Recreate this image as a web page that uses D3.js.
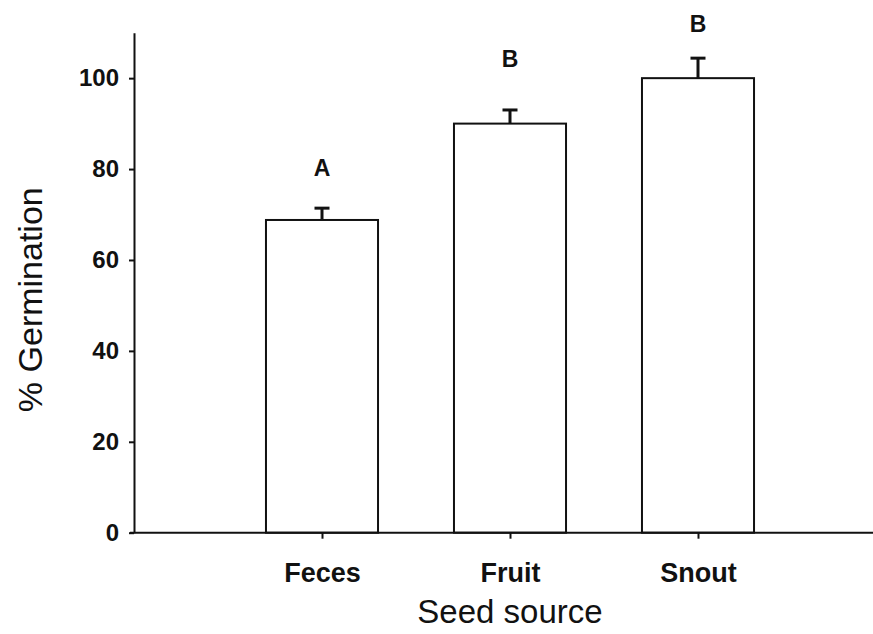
<!DOCTYPE html>
<html>
<head>
<meta charset="utf-8">
<script src="https://cdn.jsdelivr.net/npm/d3@7"></script>
<style>
  html, body { margin: 0; padding: 0; background: #fff; }
  svg { display: block; }
</style>
</head>
<body>
<svg id="chart" width="873" height="634"></svg>
<script>
const categories = ["Feces", "Fruit", "Snout"];
const germination = [68.8, 90.0, 100.0];
const errorTop = [71.4, 93.0, 104.4];
const groupLetters = ["A", "B", "B"];
const letterLevel = [80.3, 104.2, 112.0];
const yTicks = [0, 20, 40, 60, 80, 100];

(function () {
const svg = d3.select("#chart");
const padL = 134, padR = 886, padT = 32.7, padB = 532.7;

const x = d3.scalePoint().domain(categories).range([padL, padR]).padding(1);
const y = d3.scaleLinear().domain([0, 110]).range([padB, padT]);
const barW = x.step() * 0.596;

const fontFam = "'Liberation Sans', Arial, Helvetica, sans-serif";

// bars
svg.append("g").selectAll("rect")
  .data(categories)
  .join("rect")
  .attr("x", d => x(d) - barW / 2)
  .attr("y", (d, i) => y(germination[i]))
  .attr("width", barW)
  .attr("height", (d, i) => y(0) - y(germination[i]))
  .attr("fill", "#fff")
  .attr("stroke", "#111")
  .attr("stroke-width", 2);

// error bars
const eb = svg.append("g").attr("stroke", "#111");
eb.selectAll("line.stem")
  .data(categories)
  .join("line")
  .attr("class", "stem")
  .attr("x1", d => x(d)).attr("x2", d => x(d))
  .attr("y1", (d, i) => y(germination[i]))
  .attr("y2", (d, i) => y(errorTop[i]))
  .attr("stroke-width", 3);
eb.selectAll("line.cap")
  .data(categories)
  .join("line")
  .attr("class", "cap")
  .attr("x1", d => x(d) - 7.5).attr("x2", d => x(d) + 7.5)
  .attr("y1", (d, i) => y(errorTop[i]))
  .attr("y2", (d, i) => y(errorTop[i]))
  .attr("stroke-width", 3);

// letters
svg.append("g").selectAll("text")
  .data(categories)
  .join("text")
  .attr("x", d => x(d))
  .attr("y", (d, i) => y(letterLevel[i]))
  .attr("dy", "0.35em")
  .attr("text-anchor", "middle")
  .attr("font-family", fontFam)
  .attr("font-weight", "bold")
  .attr("font-size", 23)
  .attr("fill", "#111")
  .text((d, i) => groupLetters[i]);

// y axis
const yAxis = svg.append("g")
  .attr("transform", `translate(${padL},0)`)
  .call(d3.axisLeft(y).tickValues(yTicks).tickSize(5).tickSizeOuter(0).tickPadding(10));
yAxis.select(".domain").attr("stroke", "#111").attr("stroke-width", 2);
yAxis.selectAll(".tick line").attr("stroke", "#111").attr("stroke-width", 2);
yAxis.selectAll(".tick text")
  .attr("font-family", fontFam).attr("font-weight", "bold").attr("font-size", 24).attr("fill", "#111");

// x axis
const xAxis = svg.append("g")
  .attr("transform", `translate(0,${padB})`)
  .call(d3.axisBottom(x).tickSize(6).tickSizeOuter(0).tickPadding(24));
xAxis.select(".domain").attr("stroke", "#111").attr("stroke-width", 2)
  .attr("d", `M${padL - 4},0H${padR}`);
xAxis.selectAll(".tick line").attr("stroke", "#111").attr("stroke-width", 2);
xAxis.selectAll(".tick text")
  .attr("font-family", fontFam).attr("font-weight", "bold").attr("font-size", 27).attr("fill", "#111");

// axis titles
svg.append("text")
  .attr("x", x(categories[1]))
  .attr("y", 623)
  .attr("text-anchor", "middle")
  .attr("font-family", fontFam)
  .attr("font-size", 33)
  .attr("fill", "#111")
  .text("Seed source");

svg.append("text")
  .attr("transform", `translate(42,${(padT + padB) / 2 + 17}) rotate(-90)`)
  .attr("text-anchor", "middle")
  .attr("font-family", fontFam)
  .attr("font-size", 34)
  .attr("fill", "#111")
  .text("% Germination");
})();
</script>
</body>
</html>
